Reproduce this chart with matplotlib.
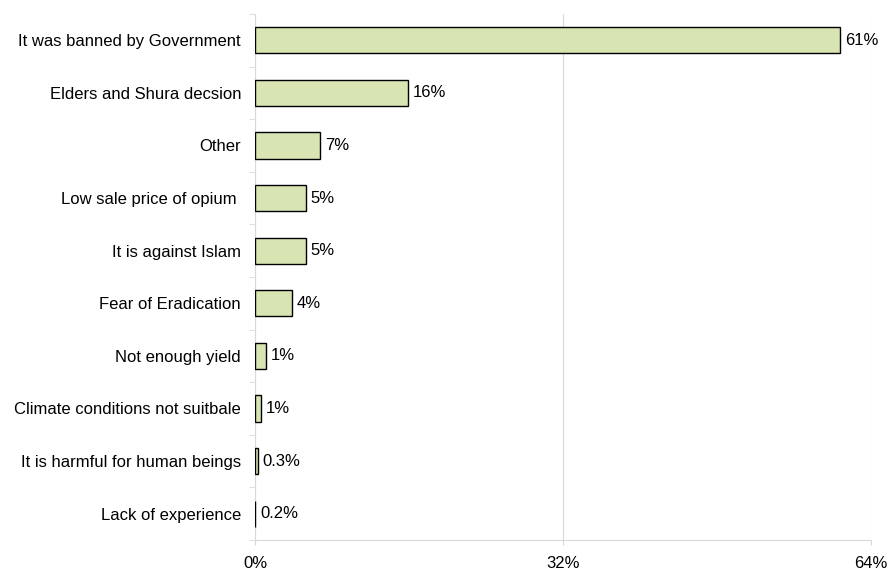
import matplotlib
matplotlib.use("Agg")
import matplotlib.pyplot as plt
import numpy as np

categories = ["It was banned by Government", "Elders and Shura decsion", "Other",
              "Low sale price of opium ", "It is against Islam", "Fear of Eradication",
              "Not enough yield", "Climate conditions not suitbale",
              "It is harmful for human beings", "Lack of experience"]
values = [60.8, 15.9, 6.8, 5.3, 5.3, 3.8, 1.1, 0.6, 0.3, 0.02]
labels = ["61%", "16%", "7%", "5%", "5%", "4%", "1%", "1%", "0.3%", "0.2%"]
xticks = [0, 32, 64]

plt.rcParams['font.family'] = ['Liberation Sans', 'DejaVu Sans']
FS = 12
fig = plt.figure(figsize=(8.9, 5.71), dpi=100)
ax = fig.add_axes([0.2865, 0.0543, 0.6922, 0.9212])

y = np.arange(len(categories))
ax.barh(y, values, height=0.5, color="#d8e4b2", edgecolor="black", linewidth=1.0, zorder=3)
for yi, v, lab in zip(y, values, labels):
    ax.text(v + 0.5, yi, lab, va="center", ha="left", fontsize=FS, zorder=4)

ax.set_xlim(0, 64)
ax.set_ylim(len(categories) - 0.5, -0.5)
ax.set_xticks(xticks)
ax.set_xticklabels([f"{t}%" for t in xticks], fontsize=FS)
ax.set_yticks(y)
ax.set_yticklabels(categories, fontsize=FS)
ax.set_yticks(np.arange(-0.5, len(categories), 1), minor=True)
ax.tick_params(axis="y", which="major", length=0, pad=10)
ax.tick_params(axis="y", which="minor", length=4, color="#d9d9d9")
ax.tick_params(axis="x", length=3.6, color="#d9d9d9", pad=8)
ax.grid(axis="x", color="#d9d9d9", linewidth=0.8, zorder=0)
for s in ["top", "right"]:
    ax.spines[s].set_visible(False)
for s in ["left", "bottom"]:
    ax.spines[s].set_color("#d9d9d9")
fig.savefig("out.png", dpi=100)
